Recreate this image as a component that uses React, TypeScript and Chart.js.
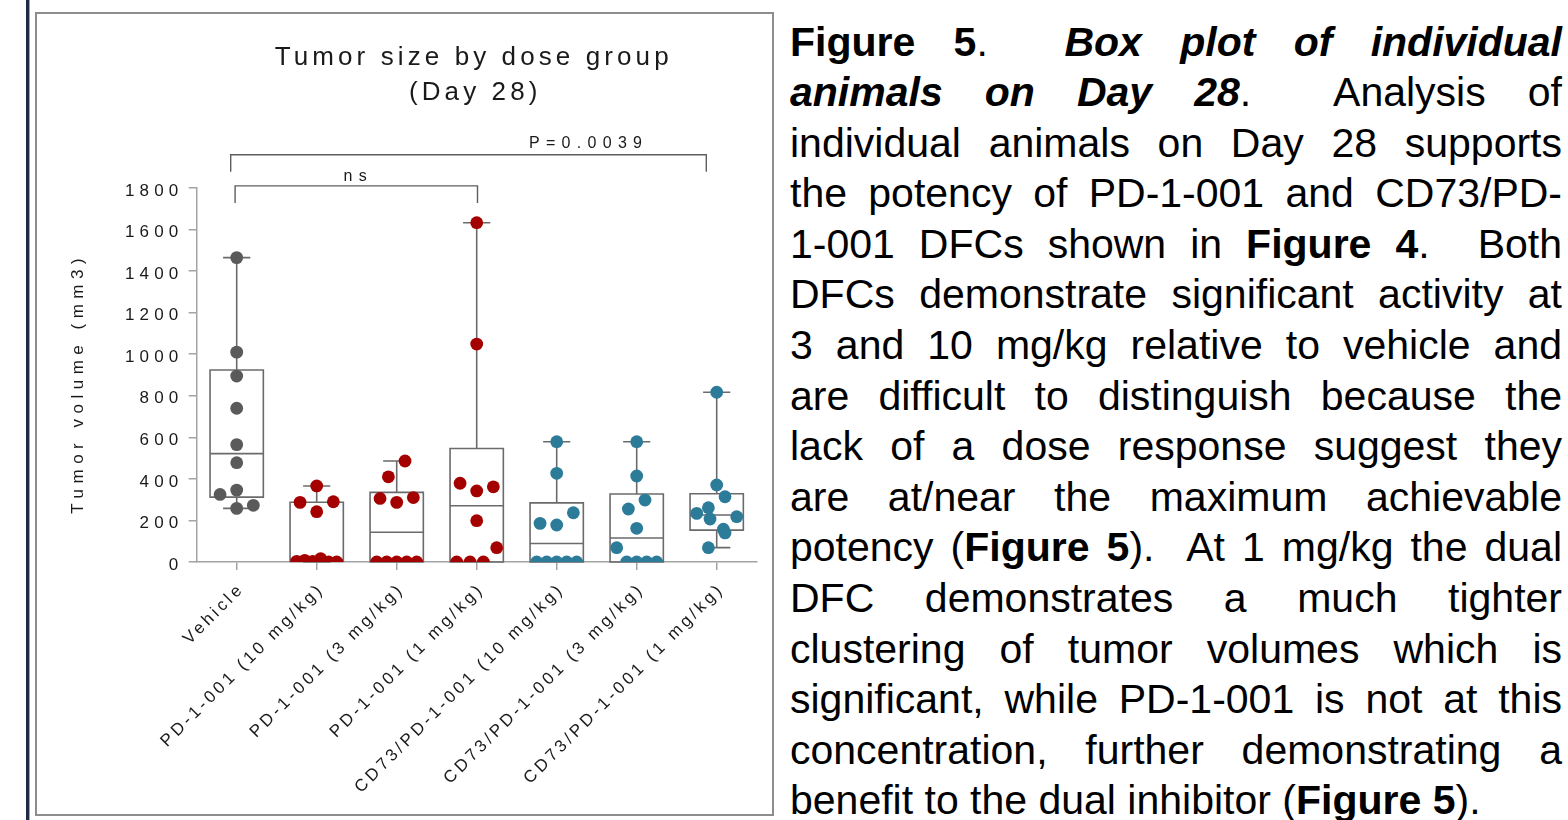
import React, { useEffect, useRef } from 'react';
import { Chart, registerables } from 'chart.js';

Chart.register(...registerables);

// ---------------- data ----------------
const GROUPS = [
  'Vehicle',
  'PD-1-001 (10 mg/kg)',
  'PD-1-001 (3 mg/kg)',
  'PD-1-001 (1 mg/kg)',
  'CD73/PD-1-001 (10 mg/kg)',
  'CD73/PD-1-001 (3 mg/kg)',
  'CD73/PD-1-001 (1 mg/kg)',
];
const VEHICLE = [1465, 1010, 895, 740, 565, 478, 346, 258, 273, 325];
const PD1_10 = [366, 242, 290, 287, 16, 3, 0, 8, 0, 3];
const PD1_3 = [486, 410, 287, 310, 306, 0, 0, 0, 0, 0];
const PD1_1 = [1633, 1049, 342, 362, 379, 199, 0, 0, 69, 0];
const DUAL_10 = [579, 427, 178, 237, 186, 0, 0, 0, 0, 0];
const DUAL_3 = [579, 414, 298, 255, 162, 0, 0, 0, 0, 69];
const DUAL_1 = [817, 371, 314, 261, 158, 207, 218, 234, 140, 69];
const SERIES = [VEHICLE, PD1_10, PD1_3, PD1_1, DUAL_10, DUAL_3, DUAL_1];
const COLORS = ['#5a5a5a', '#a50000', '#a50000', '#a50000', '#2c7b99', '#2c7b99', '#2c7b99'];
const Y_TICKS = [0, 200, 400, 600, 800, 1000, 1200, 1400, 1600, 1800];
const TITLE = ['Tumor size by dose group', '(Day 28)'];
const Y_TITLE = 'Tumor volume (mm3)';
const BRACKET_FROM = [0, 0];
const BRACKET_TO = [6, 3];
const BRACKET_LABELS = ['P=0.0039', 'ns'];

// ---------------- helpers ----------------
const FONT = '"Liberation Sans", Arial, sans-serif';
const TEXT_COLOR = '#1a1a1a';
const LINE_GRAY = '#6b6b6b';
const AXIS_GRAY = '#a3a3a3';

// GraphPad style percentile (p*(n+1))
function quantile(sorted: number[], p: number) {
  const n = sorted.length;
  const pos = p * (n + 1);
  if (pos <= 1) return sorted[0];
  if (pos >= n) return sorted[n - 1];
  const lo = Math.floor(pos);
  const f = pos - lo;
  return sorted[lo - 1] + f * (sorted[lo] - sorted[lo - 1]);
}

// simple row-binned scatter layout (in data units)
const ROW_H = 82; // value units per row
const STEP = 0.208; // category units between neighbours
const MAX_HALF = 0.25;
function swarm(values: number[]) {
  const order = values.map((_, i) => i).sort((a, b) => values[a] - values[b] || a - b);
  const off = new Array(values.length).fill(0);
  const used = new Set<number>();
  for (const i of order) {
    if (used.has(i)) continue;
    const v0 = values[i];
    const row = values
      .map((_, j) => j)
      .filter((j) => !used.has(j) && values[j] >= v0 && values[j] - v0 < ROW_H);
    row.forEach((j) => used.add(j));
    const n = row.length;
    let s = STEP;
    if (n > 1 && ((n - 1) * s) / 2 > MAX_HALF) s = (2 * MAX_HALF) / (n - 1);
    const slots = Array.from({ length: n }, (_, k) => (k - (n - 1) / 2) * s);
    slots.sort((a, b) => Math.abs(a) - Math.abs(b) || b - a);
    row.forEach((j, k) => (off[j] = slots[k]));
  }
  return off;
}

function wrapSpacing(scale: any, ls: string) {
  if (!scale || scale.__lsWrapped) return;
  const orig = scale.drawLabels;
  scale.drawLabels = function (ca: any) {
    const ctx = this.ctx;
    ctx.save();
    ctx.letterSpacing = ls;
    orig.call(this, ca);
    ctx.restore();
  };
  scale.__lsWrapped = true;
}

const spacingPlugin = {
  id: 'spacing',
  afterLayout(chart: any) {
    wrapSpacing(chart.scales.x, '3.4px');
    wrapSpacing(chart.scales.y, '5.2px');
  },
};

const BOX_HALF = 0.333;
const CAP_HALF = 0.17;
const boxPlugin = {
  id: 'boxes',
  beforeDatasetsDraw(chart: any) {
    const { ctx, scales } = chart;
    const x = scales.x;
    const y = scales.y;
    ctx.save();
    ctx.strokeStyle = LINE_GRAY;
    ctx.lineWidth = 1.6;
    SERIES.forEach((vals, g) => {
      const s = [...vals].sort((a, b) => a - b);
      const q1 = quantile(s, 0.25);
      const med = quantile(s, 0.5);
      const q3 = quantile(s, 0.75);
      const mn = s[0];
      const mx = s[s.length - 1];
      const xc = x.getPixelForValue(g);
      const xl = x.getPixelForValue(g - BOX_HALF);
      const xr = x.getPixelForValue(g + BOX_HALF);
      const cl = x.getPixelForValue(g - CAP_HALF);
      const cr = x.getPixelForValue(g + CAP_HALF);
      const y1 = y.getPixelForValue(q1);
      const y3 = y.getPixelForValue(q3);
      const ym = y.getPixelForValue(med);
      const ymin = y.getPixelForValue(mn);
      const ymax = y.getPixelForValue(mx);
      ctx.beginPath();
      ctx.rect(xl, y3, xr - xl, y1 - y3);
      ctx.moveTo(xl, ym);
      ctx.lineTo(xr, ym);
      ctx.moveTo(xc, y3);
      ctx.lineTo(xc, ymax);
      ctx.moveTo(xc, y1);
      ctx.lineTo(xc, ymin);
      ctx.moveTo(cl, ymax);
      ctx.lineTo(cr, ymax);
      ctx.moveTo(cl, ymin);
      ctx.lineTo(cr, ymin);
      ctx.stroke();
    });
    ctx.restore();
  },
};

// bracket layout (value units for heights, category units for label)
const BRACKET_LINE = [1960, 1810];
const BRACKET_LEG = [1878, 1728];
const BRACKET_LABEL_X = [4.36, 1.48];
const BRACKET_INSET_L = [-0.075, -0.02];
const BRACKET_INSET_R = [-0.13, 0.01];

const annotatePlugin = {
  id: 'annotate',
  afterDraw(chart: any) {
    const { ctx, chartArea, scales } = chart;
    const x = scales.x;
    const y = scales.y;
    ctx.save();
    ctx.fillStyle = TEXT_COLOR;
    // title
    ctx.font = `26px ${FONT}`;
    ctx.letterSpacing = '4.1px';
    ctx.textAlign = 'center';
    ctx.textBaseline = 'alphabetic';
    const cx = (chartArea.left + chartArea.right) / 2 - 3;
    ctx.fillText(TITLE[0], cx, 51);
    ctx.fillText(TITLE[1], cx + 1.5, 86);
    // y title
    ctx.save();
    ctx.translate(41, 372);
    ctx.rotate(-Math.PI / 2);
    ctx.font = `17px ${FONT}`;
    ctx.letterSpacing = '5.5px';
    ctx.textAlign = 'center';
    ctx.textBaseline = 'middle';
    ctx.fillText(Y_TITLE, 2.7, 0);
    ctx.restore();
    // brackets
    ctx.strokeStyle = '#5e5e5e';
    ctx.lineWidth = 1.4;
    ctx.font = `16px ${FONT}`;
    ctx.letterSpacing = '6.3px';
    ctx.textAlign = 'center';
    ctx.textBaseline = 'alphabetic';
    BRACKET_LABELS.forEach((lab, i) => {
      const xa = x.getPixelForValue(BRACKET_FROM[i] + BRACKET_INSET_L[i]);
      const xb = x.getPixelForValue(BRACKET_TO[i] + BRACKET_INSET_R[i]);
      const yl = y.getPixelForValue(BRACKET_LINE[i]);
      const yg = y.getPixelForValue(BRACKET_LEG[i]);
      ctx.beginPath();
      ctx.moveTo(xa, yg);
      ctx.lineTo(xa, yl);
      ctx.lineTo(xb, yl);
      ctx.lineTo(xb, yg);
      ctx.stroke();
      ctx.fillText(lab, x.getPixelForValue(BRACKET_LABEL_X[i]) + 3.1, yl - (i === 0 ? 6.5 : 4.5));
    });
    ctx.restore();
  },
};

function BoxChart() {
  const ref = useRef<HTMLCanvasElement | null>(null);
  useEffect(() => {
    if (!ref.current) return;
    const datasets = SERIES.map((vals, g) => {
      const off = swarm(vals);
      return {
        label: GROUPS[g],
        data: vals.map((v, k) => ({ x: g + off[k], y: v })),
        backgroundColor: COLORS[g],
        borderWidth: 0,
        pointRadius: 6.4,
        pointHoverRadius: 6.4,
        clip: { left: false, top: false, right: false, bottom: 0 },
      };
    });
    const chart = new Chart(ref.current, {
      type: 'scatter',
      data: { datasets },
      plugins: [spacingPlugin, boxPlugin, annotatePlugin],
      options: {
        responsive: false,
        animation: false,
        events: [],
        layout: { padding: { top: 174, left: 10, right: 14.3, bottom: 2 } },
        plugins: {
          legend: { display: false },
          tooltip: { enabled: false },
          title: { display: false },
        },
        scales: {
          x: {
            type: 'linear',
            min: -0.5,
            max: 6.5,
            afterBuildTicks: (s: any) => {
              s.ticks = GROUPS.map((_, i) => ({ value: i }));
            },
            afterFit: (s: any) => {
              s.height = 250;
            },
            ticks: {
              autoSkip: false,
              minRotation: 45,
              maxRotation: 45,
              padding: 9,
              labelOffset: 5,
              color: TEXT_COLOR,
              font: { family: FONT, size: 17 },
              callback: (v: any) => GROUPS[v],
            },
            grid: {
              drawOnChartArea: false,
              drawTicks: true,
              tickLength: 8,
              color: AXIS_GRAY,
              lineWidth: 1.5,
            },
            border: { display: true, color: AXIS_GRAY, width: 1.5 },
          },
          y: {
            type: 'linear',
            min: 0,
            max: 1800,
            afterBuildTicks: (s: any) => {
              s.ticks = Y_TICKS.map((v) => ({ value: v }));
            },
            afterFit: (s: any) => {
              s.width = 149.7;
            },
            ticks: {
              padding: 5.2,
              labelOffset: 3,
              color: TEXT_COLOR,
              font: { family: FONT, size: 17 },
              callback: (v: any) => String(v),
            },
            grid: {
              drawOnChartArea: false,
              drawTicks: true,
              tickLength: 8,
              color: AXIS_GRAY,
              lineWidth: 1.5,
            },
            border: { display: true, color: AXIS_GRAY, width: 1.5 },
          },
        },
      } as any,
    });
    return () => chart.destroy();
  }, []);
  return (
    <canvas
      ref={ref}
      width={734}
      height={800}
      style={{ position: 'absolute', left: 37, top: 14, width: 734, height: 800 }}
    />
  );
}

const PARA_FONT = '"Liberation Sans", Arial, sans-serif';

function Para() {
  const lineStyle: React.CSSProperties = {
    height: 50.6,
    whiteSpace: 'nowrap',
    textAlign: 'justify',
    textAlignLast: 'justify' as any,
  };
  const last: React.CSSProperties = { height: 50.6, whiteSpace: 'nowrap', textAlign: 'left' };
  const lines: React.ReactNode[] = [
    <>
      <b>Figure 5</b>.{'\u00a0 '}<b><i>Box plot of individual</i></b>
    </>,
    <>
      <b><i>animals on Day 28</i></b>.{'\u00a0 '}Analysis of
    </>,
    <>individual animals on Day 28 supports</>,
    <>the potency of PD-1-001 and CD73/PD-</>,
    <>
      1-001 DFCs shown in <b>Figure 4</b>.{'\u00a0 '}Both
    </>,
    <>DFCs demonstrate significant activity at</>,
    <>3 and 10 mg/kg relative to vehicle and</>,
    <>are difficult to distinguish because the</>,
    <>lack of a dose response suggest they</>,
    <>are at/near the maximum achievable</>,
    <>
      potency (<b>Figure 5</b>).{'\u00a0 '}At 1 mg/kg the dual
    </>,
    <>DFC demonstrates a much tighter</>,
    <>clustering of tumor volumes which is</>,
    <>significant, while PD-1-001 is not at this</>,
    <>concentration, further demonstrating a</>,
    <>
      benefit to the dual inhibitor (<b>Figure 5</b>).
    </>,
  ];
  return (
    <div
      style={{
        position: 'absolute',
        left: 790,
        top: 16.5,
        width: 772,
        fontFamily: PARA_FONT,
        fontSize: 41,
        lineHeight: '50.6px',
        color: '#000',
      }}
    >
      {lines.map((l, i) => (
        <div key={i} style={i === lines.length - 1 ? last : lineStyle}>
          {l}
        </div>
      ))}
    </div>
  );
}

export default function App() {
  return (
    <div
      style={{
        position: 'fixed',
        left: 0,
        top: 0,
        width: 1568,
        height: 820,
        overflow: 'hidden',
        background: '#fff',
      }}
    >
      <div style={{ position: 'absolute', left: 26, top: 0, width: 3, height: 820, background: '#1f2a44' }} />
      <div style={{ position: 'absolute', left: 29, top: 0, width: 1, height: 820, background: '#9aa6bb' }} />
      <div
        style={{
          position: 'absolute',
          left: 35,
          top: 12,
          width: 739,
          height: 804,
          border: '2px solid #8d8d8d',
          boxSizing: 'border-box',
        }}
      />
      <BoxChart />
      <Para />
    </div>
  );
}
